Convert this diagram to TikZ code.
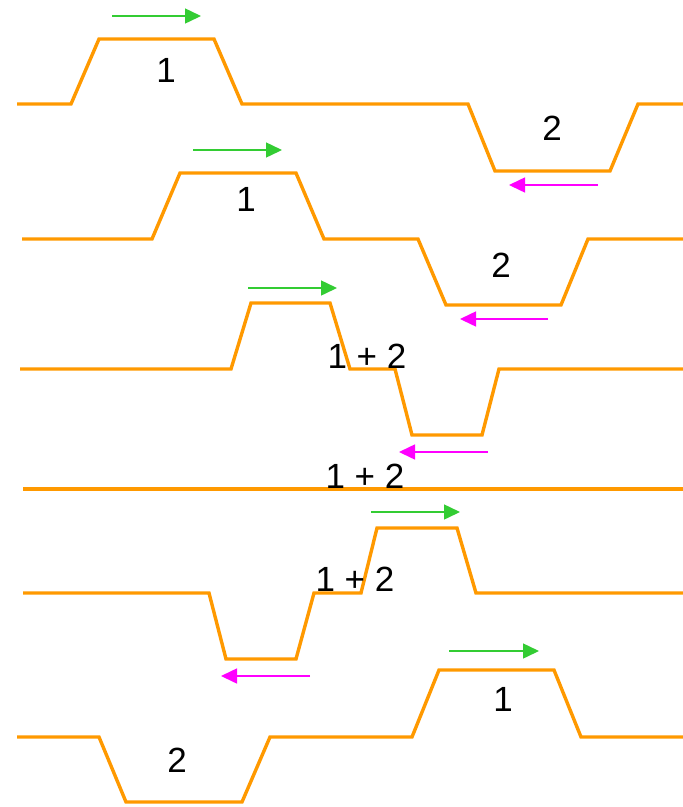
\documentclass[tikz,border=0pt]{standalone}
\usepackage{fontspec}
\setmainfont{Liberation Sans}
\usetikzlibrary{arrows.meta}
\definecolor{wave}{HTML}{FF9900}
\definecolor{fwd}{HTML}{33CC33}
\definecolor{bwd}{HTML}{FF00FF}
\tikzset{
  pulse/.style={draw=wave, line width=3.4pt, line join=miter},
  rightarr/.style={draw=fwd, line width=1.5pt, -{Triangle[length=16pt,width=15pt]}},
  leftarr/.style={draw=bwd, line width=1.5pt, -{Triangle[length=16pt,width=15pt]}},
  lbl/.style={inner sep=0pt, font=\fontsize{35}{40}\selectfont}
}
\begin{document}
\begin{tikzpicture}[x=1pt,y=-1pt]
\useasboundingbox (0,0) rectangle (683,807);
% Row 1
\draw[pulse] (17,104) -- (71,104) -- (99,39) -- (214,39) -- (242,104) -- (468,104) -- (495,171) -- (610,171) -- (638,104) -- (683,104);
\coordinate (g1a) at (112,16); \coordinate (g1b) at (201,16);
\draw[rightarr] (g1a) -- (g1b);
\node[lbl] (l1a) at (166,70) {1};
\node[lbl] (l1b) at (552,128) {2};
\coordinate (m1a) at (598,185); \coordinate (m1b) at (509,185);
\draw[leftarr] (m1a) -- (m1b);
% Row 2
\draw[pulse] (22,239) -- (152,239) -- (180,173) -- (296,173) -- (324,239) -- (418,239) -- (446,305) -- (561,305) -- (588,239) -- (683,239);
\coordinate (g2a) at (193,150); \coordinate (g2b) at (282,150);
\draw[rightarr] (g2a) -- (g2b);
\node[lbl] (l2a) at (246,199) {1};
\node[lbl] (l2b) at (501,265) {2};
\coordinate (m2a) at (548,319); \coordinate (m2b) at (460,319);
\draw[leftarr] (m2a) -- (m2b);
% Row 3
\draw[pulse] (20,369) -- (231,369) -- (251,303) -- (330,303) -- (350,369) -- (395,369) -- (412,435) -- (482,435) -- (499,369) -- (683,369);
\coordinate (g3a) at (248,288); \coordinate (g3b) at (337,288);
\draw[rightarr] (g3a) -- (g3b);
\node[lbl] (l3) at (367,356) {1 + 2};
\coordinate (m3a) at (488,452); \coordinate (m3b) at (399,452);
\draw[leftarr] (m3a) -- (m3b);
% Row 4
\draw[pulse] (23,489) -- (683,489);
\node[lbl] (l4) at (365,476) {1 + 2};
% Row 5
\draw[pulse] (23,593) -- (209,593) -- (226,659) -- (296,659) -- (314,593) -- (361,593) -- (377,528) -- (457,528) -- (476,593) -- (683,593);
\coordinate (g5a) at (371,512); \coordinate (g5b) at (460,512);
\draw[rightarr] (g5a) -- (g5b);
\node[lbl] (l5) at (355,579) {1 + 2};
\coordinate (m5a) at (310,676); \coordinate (m5b) at (221,676);
\draw[leftarr] (m5a) -- (m5b);
% Row 6
\draw[pulse] (17,737) -- (99,737) -- (126,802) -- (242,802) -- (270,737) -- (412,737) -- (439,670) -- (554,670) -- (581,737) -- (683,737);
\coordinate (g6a) at (449,651); \coordinate (g6b) at (539,651);
\draw[rightarr] (g6a) -- (g6b);
\node[lbl] (l6a) at (503,699) {1};
\node[lbl] (l6b) at (177,760) {2};
\end{tikzpicture}
\end{document}
